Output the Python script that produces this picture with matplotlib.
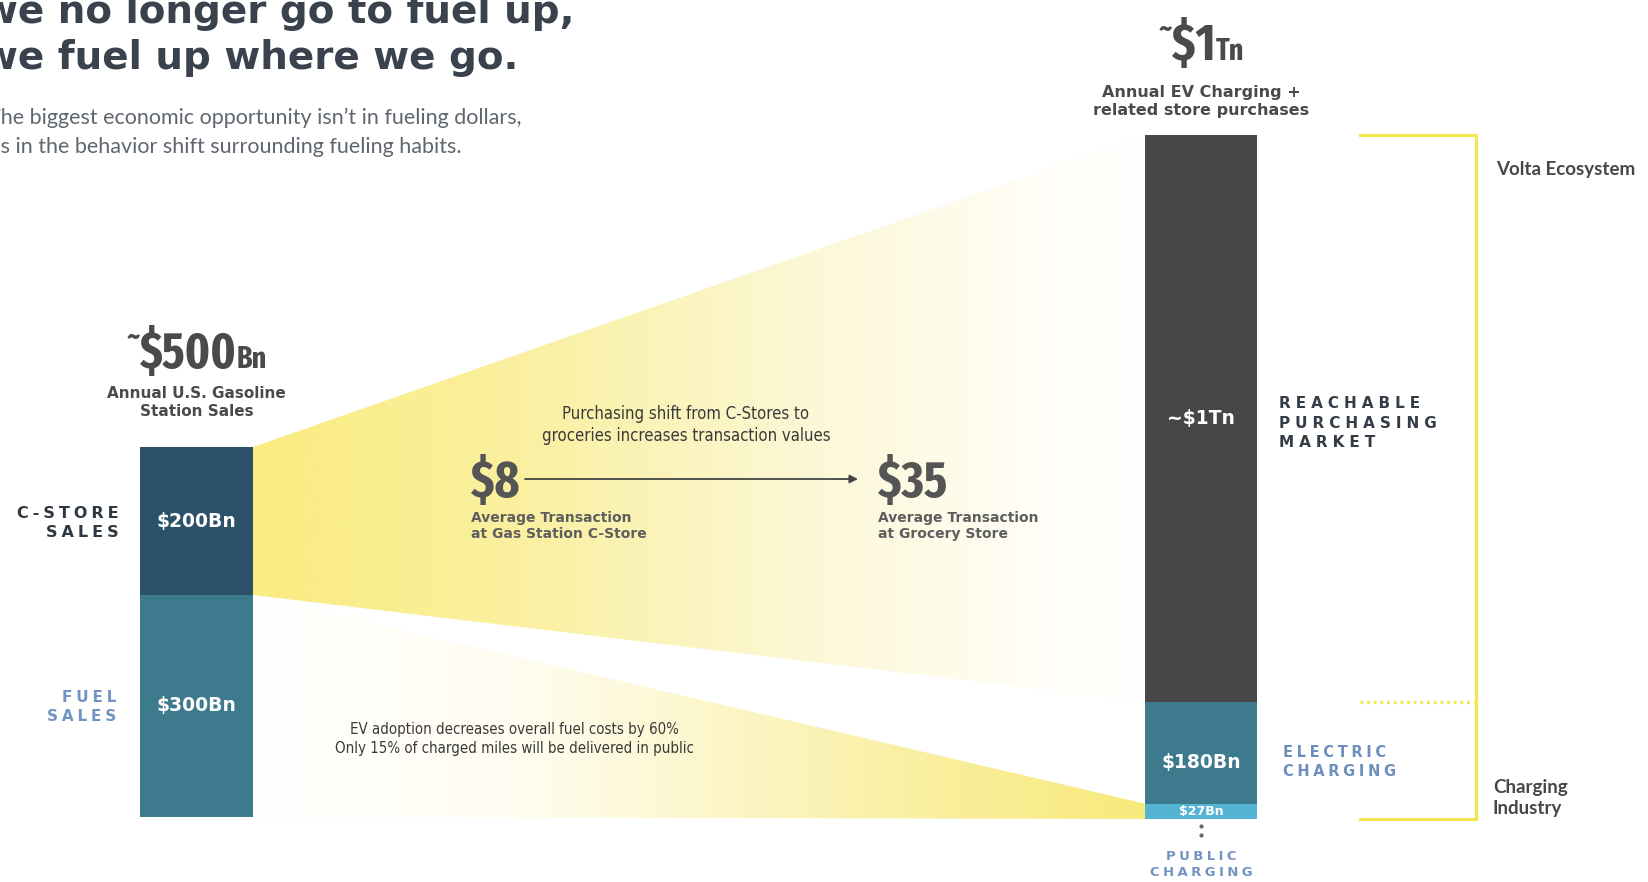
import os
import numpy as np
import matplotlib
matplotlib.use("Agg")
import matplotlib.pyplot as plt
from matplotlib.colors import LinearSegmentedColormap
from matplotlib.patches import Polygon
from matplotlib.transforms import blended_transform_factory
from matplotlib import font_manager
from matplotlib.font_manager import FontProperties

# ---------------- data ($Bn) ----------------
gas_segments = ["Fuel Sales", "C-Store Sales"]
gas_values = [300, 200]
gas_labels = ["$300Bn", "$200Bn"]

ev_segments = ["Public Charging", "Electric Charging", "Reachable Purchasing Market"]
ev_values = [27, 180, 1000]
ev_labels = ["$27Bn", "$180Bn", "~$1Tn"]

txn_places = ["Gas Station C-Store", "Grocery Store"]
txn_values = [8, 35]

# ---------------- styling ----------------
W, H = 1648, 882
gas_colors = ["#3E7A8E", "#2B5268"]
ev_colors = ["#55B3D4", "#3E7A8E", "#474747"]
YELLOW = "#F4E64E"
DARK = "#3A434D"
GRAY = "#4A4A4A"
BLUE_CAPS = "#7294C2"

WIDE = ["DejaVu Sans"]
HUMAN = ["Lato", "DejaVu Sans"]
LIGHT = ["Lato", "DejaVu Sans"]


def _weight(f):
    if isinstance(f.weight, int):
        return f.weight
    return font_manager.weight_dict.get(f.weight, 400)


def condensed_font(bold, level_order):
    """Return the path of the best installed condensed / narrow sans face."""
    best, best_score = None, None
    for f in font_manager.fontManager.ttflist:
        key = (f.name + os.path.basename(f.fname)).lower()
        for ch in " -_":
            key = key.replace(ch, "")
        if any(k in key for k in ("mono", "italic", "oblique", "display")):
            continue
        if f.style != "normal":
            continue
        if "serif" in key and "sans" not in key:
            continue
        if "ultracondensed" in key or "extracondensed" in key or f.stretch in ("extra-condensed", "ultra-condensed"):
            level = 3
        elif "semicondensed" in key or f.stretch == "semi-condensed":
            level = 1
        elif "condensed" in key or "narrow" in key or f.stretch == "condensed":
            level = 2
        else:
            continue
        rank = level_order.index(level) if level in level_order else 9
        score = (rank, abs(_weight(f) - (700 if bold else 400)))
        if best_score is None or score < best_score:
            best, best_score = f.fname, score
    return best


NUM_FONT = condensed_font(True, [3, 2, 1])
BODY_NARROW = condensed_font(False, [2, 1, 3])


def num_fp(size):
    if NUM_FONT:
        return FontProperties(fname=NUM_FONT, size=size)
    return FontProperties(family=["Roboto", "DejaVu Sans"], weight="bold", size=size)


def narrow_fp(size):
    if BODY_NARROW:
        return FontProperties(fname=BODY_NARROW, size=size)
    return FontProperties(family=["Roboto", "DejaVu Sans"], size=size * 0.92)


fig = plt.figure(figsize=(W / 100, H / 100), dpi=100)
fig.patch.set_facecolor("white")

bg = fig.add_axes([0, 0, 1, 1], zorder=0)
bg.set_xlim(0, W)
bg.set_ylim(H, 0)
bg.axis("off")


def px_axes(x0, y0, x1, y1, z=2):
    return fig.add_axes([x0 / W, 1 - y1 / H, (x1 - x0) / W, (y1 - y0) / H], zorder=z)


def stacked(ax, values, colors):
    bottoms = np.concatenate([[0], np.cumsum(values)[:-1]])
    ax.bar(np.zeros(len(values)), values, bottom=bottoms, width=1.0,
           color=colors, edgecolor="none")
    ax.set_xlim(-0.5, 0.5)
    ax.set_ylim(0, sum(values))
    ax.axis("off")
    return bottoms


ax_gas = px_axes(140, 447, 253, 817)
ax_ev = px_axes(1145, 135, 1257, 819)
gas_bottoms = stacked(ax_gas, gas_values, gas_colors)
ev_bottoms = stacked(ax_ev, ev_values, ev_colors)

# segment labels (fraction = label height within its segment)
for b, v, lab in zip(gas_bottoms, gas_values, gas_labels):
    ax_gas.text(0, b + v / 2, lab, ha="center", va="center", color="white",
                fontsize=13.5, fontweight="bold", family=WIDE)
for b, v, lab, fs, frac in zip(ev_bottoms, ev_values, ev_labels, [9, 13.5, 13.5],
                               [0.5, 0.4, 0.5]):
    ax_ev.text(0, b + v * frac, lab, ha="center", va="center", color="white",
               fontsize=fs, fontweight="bold", family=WIDE)


# ---------------- gradient funnels ----------------
def to_bg(ax, x, y):
    return bg.transData.inverted().transform(ax.transData.transform((x, y)))


def funnel(left_lo, left_hi, right_lo, right_hi, stops):
    pts = [to_bg(ax_gas, 0.5, left_hi), to_bg(ax_ev, -0.5, right_hi),
           to_bg(ax_ev, -0.5, right_lo), to_bg(ax_gas, 0.5, left_lo)]
    poly = Polygon(pts, closed=True, transform=bg.transData)
    cmap = LinearSegmentedColormap.from_list("fade", stops)
    x0, x1 = pts[0][0], pts[1][0]
    im = bg.imshow(np.linspace(0, 1, 512)[None, :], cmap=cmap, aspect="auto",
                   extent=[x0, x1, H, 0], interpolation="bilinear", zorder=1)
    im.set_clip_path(poly)


gas_cum = np.cumsum(gas_values)
ev_cum = np.cumsum(ev_values)
# C-store spend flows into the reachable purchasing market
funnel(gas_cum[0], gas_cum[1], ev_cum[1], ev_cum[2],
       [(0, "#FAEC80"), (0.3, "#FAF0A0"), (0.6, "#FCF7D2"), (0.85, "#FFFDF3"), (1, "#FFFFFF")])
# fuel spend flows into public charging
funnel(0, gas_cum[0], 0, ev_cum[0],
       [(0, "#FFFFFF"), (0.3, "#FFFDF0"), (0.55, "#FCF5C4"), (0.8, "#F9EE98"), (1, "#F8EA7C")])
bg.set_xlim(0, W)
bg.set_ylim(H, 0)

# ---------------- bracket on the right ----------------
tr = blended_transform_factory(bg.transData, ax_ev.transData)
bg.plot([1360, 1476, 1476, 1360], [ev_cum[2], ev_cum[2], 0, 0], transform=tr,
        color=YELLOW, lw=2.2, solid_joinstyle="miter", clip_on=False, zorder=3)
bg.plot([1360, 1474], [ev_cum[1], ev_cum[1]], transform=tr, color=YELLOW,
        lw=2.4, ls=(0, (0.8, 1.2)), clip_on=False, zorder=3)

bg.text(1496, 169, "Volta Ecosystem", ha="left", va="center", color="#474747",
        fontsize=13.5, fontweight="bold", family=HUMAN, zorder=4)
bg.text(1493, 798, "Charging\nIndustry", ha="left", va="center", color="#474747",
        fontsize=13.5, fontweight="bold", family=HUMAN, linespacing=1.35, zorder=4)

# ---------------- titles ----------------
title_lines = ["we no longer go to fuel up,", "we fuel up where we go."]
subtitle_lines = ["The biggest economic opportunity isn\u2019t in fueling dollars,",
                  "it\u2019s in the behavior shift surrounding fueling habits."]
TITLE_FS = 28
SUB_FS = 15.5

t1 = bg.text(0, 23, title_lines[0], ha="left", va="baseline", color=DARK,
             fontsize=TITLE_FS, fontweight="bold", family=WIDE, zorder=4)
t2 = bg.text(0, 69, title_lines[1], ha="left", va="baseline", color=DARK,
             fontsize=TITLE_FS, fontweight="bold", family=WIDE, zorder=4)
s1 = bg.text(0, 124, subtitle_lines[0], ha="left", va="baseline", color="#5F666E",
             fontsize=SUB_FS, fontweight="normal", family=LIGHT, zorder=4)
s2 = bg.text(0, 153, subtitle_lines[1], ha="left", va="baseline", color="#5F666E",
             fontsize=SUB_FS, fontweight="normal", family=LIGHT, zorder=4)

fig.canvas.draw()
R = fig.canvas.get_renderer()


def width_of(s, **kw):
    t = bg.text(0, 0, s, **kw)
    w = t.get_window_extent(R).width
    t.remove()
    return w


w_half = 0.5 * width_of("w", fontsize=TITLE_FS, fontweight="bold", family=WIDE)
t1.set_x(-w_half)
t2.set_x(-w_half)
s1.set_x(-width_of("T", fontsize=SUB_FS, fontweight="normal", family=LIGHT) + 1)
s2.set_x(-width_of("it\u2019", fontsize=SUB_FS, fontweight="normal", family=LIGHT) + 1)


def headline(cx, y_base, parts):
    """Place text pieces side by side on a shared baseline, centred on cx."""
    texts = []
    for s, fs, dy in parts:
        texts.append(bg.text(0, y_base + dy, s, ha="left", va="baseline", color=GRAY,
                             fontproperties=num_fp(fs), zorder=4))
    widths = [t.get_window_extent(R).width for t in texts]
    x = cx - sum(widths) / 2
    for t, w in zip(texts, widths):
        t.set_x(x)
        x += w


gas_cx = to_bg(ax_gas, 0, 0)[0]
ev_cx = to_bg(ax_ev, 0, 0)[0]
headline(gas_cx, 368, [("~", 22, -22), (f"${sum(gas_values)}", 36, 0), ("Bn", 22, 0)])
headline(ev_cx, 60, [("~", 22, -22), ("$1", 37, 0), ("Tn", 22, 0)])

bg.text(gas_cx, 402, "Annual U.S. Gasoline\nStation Sales", ha="center", va="center",
        color=GRAY, fontsize=11, fontweight="bold", family=WIDE, linespacing=1.25, zorder=4)
bg.text(ev_cx, 102, "Annual EV Charging +\nrelated store purchases", ha="center",
        va="center", color=GRAY, fontsize=11.5, fontweight="bold", family=WIDE,
        linespacing=1.25, zorder=4)


# ---------------- letter-spaced category captions ----------------
def spaced(s, sep="\u2005"):
    return sep.join(s)


bg.text(119, 523, spaced("C-STORE") + "\n" + spaced("SALES"), ha="right", va="center",
        color="#2F3840", fontsize=11.5, fontweight="bold", family=WIDE,
        multialignment="right", linespacing=1.4, zorder=4)
bg.text(116, 707, spaced("FUEL") + "\n" + spaced("SALES"), ha="right", va="center",
        color=BLUE_CAPS, fontsize=11, fontweight="bold", family=WIDE,
        multialignment="right", linespacing=1.35, zorder=4)
bg.text(1279, 423, spaced("REACHABLE", "\u2004") + "\n" + spaced("PURCHASING", "\u2004")
        + "\n" + spaced("MARKET", "\u2004"),
        ha="left", va="center", color="#343D47", fontsize=11, fontweight="bold",
        family=WIDE, linespacing=1.4, zorder=4)
bg.text(1283, 762, spaced("ELECTRIC") + "\n" + spaced("CHARGING"), ha="left", va="center",
        color="#6C8FC0", fontsize=10.5, fontweight="bold", family=WIDE,
        linespacing=1.3, zorder=4)
bg.text(ev_cx, 864, spaced("PUBLIC") + "\n" + spaced("CHARGING"), ha="center", va="center",
        color=BLUE_CAPS, fontsize=9.5, fontweight="bold", family=WIDE,
        linespacing=1.3, zorder=4)
bg.plot([ev_cx, ev_cx], [826, 835], "o", ms=2.0, color="#666666", zorder=4)

# ---------------- transaction annotation ----------------
bg.text(686, 425, "Purchasing shift from C-Stores to\ngroceries increases transaction values",
        ha="center", va="center", color="#3A3A3A", fontproperties=narrow_fp(12),
        linespacing=1.35, zorder=4)
for x, v, place in zip([471, 878], txn_values, txn_places):
    bg.text(x, 497, f"${v}", ha="left", va="baseline", color="#555555",
            fontproperties=num_fp(37), zorder=4)
    bg.text(x, 526, "Average Transaction\nat " + place, ha="left", va="center",
            color="#5E5E5E", fontsize=10, fontweight="bold", family=WIDE,
            linespacing=1.25, zorder=4)
bg.annotate("", xy=(858, 479), xytext=(525, 479),
            arrowprops=dict(arrowstyle="-|>", color="#444444", lw=1.3,
                            mutation_scale=12, shrinkA=0, shrinkB=0), zorder=4)

bg.text(514, 739, "EV adoption decreases overall fuel costs by 60%\n"
        "Only 15% of charged miles will be delivered in public",
        ha="center", va="center", color="#3A3A3A", fontproperties=narrow_fp(10.8),
        linespacing=1.3, zorder=4)

fig.savefig("out.png", dpi=100, facecolor="white")
